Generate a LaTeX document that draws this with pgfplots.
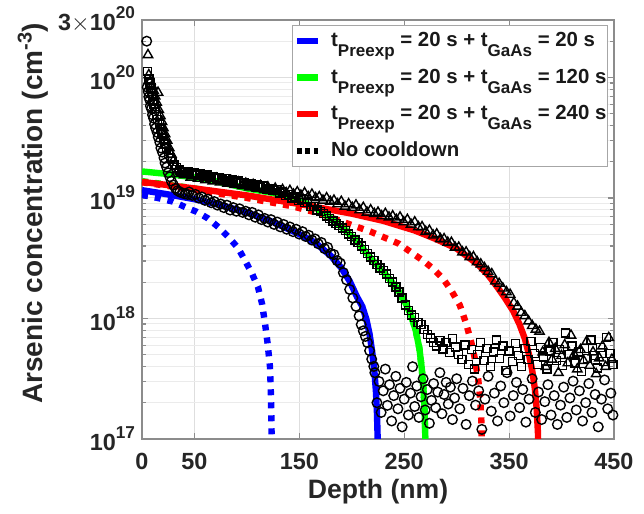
\documentclass[border=0pt]{standalone}
\usepackage{fontspec}
\setmainfont{Liberation Sans}
\usepackage{pgfplots}
\pgfplotsset{compat=1.18}
\definecolor{cblue}{rgb}{0,0,1}
\definecolor{cgreen}{rgb}{0,1,0}
\definecolor{cred}{rgb}{1,0,0}
\newcommand{\sps}[1]{\raisebox{6pt}{\fontsize{8.6}{9}\selectfont #1}}
\newcommand{\sub}[1]{\raisebox{-5pt}{\fontsize{8.5}{9}\selectfont #1}}
\begin{document}
\begin{tikzpicture}
\begin{axis}[
 scale only axis, width=236pt, height=209.5pt,
 xmin=0, xmax=450, ymode=log, ymin=1e17, ymax=3e20,
 xtick={0,50,150,250,350,450}, xticklabels={0,50,150,250,350,450},
 ytick={1e17,1e18,1e19,1e20,3e20},
 yticklabels={10\sps{17},10\sps{18},10\sps{19},10\sps{20},3$\times$10\sps{20}},
 minor ytick={2e17,3e17,4e17,5e17,6e17,7e17,8e17,9e17,2e18,3e18,4e18,5e18,6e18,7e18,8e18,9e18,2e19,3e19,4e19,5e19,6e19,7e19,8e19,9e19,2e20},
 xmajorgrids, ymajorgrids, yminorgrids,
 major grid style={black!13, line width=0.5pt},
 minor grid style={black!8, line width=0.5pt},
 axis line style={black!45, line width=0.6pt},
 tick style={black!45, line width=0.6pt},
 major tick length=3pt, minor tick length=2pt,
 tick align=inside, xtick pos=both, ytick pos=both,
 tick label style={font=\fontsize{11.7}{13}\selectfont\bfseries, text=black!85},
 xticklabel style={yshift=-3.4pt},
 xlabel={Depth (nm)},
 ylabel={Arsenic concentration (cm\raisebox{5.5pt}{\fontsize{10}{10}\selectfont -3})},
 label style={text=black!85},
 xlabel style={font=\fontsize{13.3}{15}\selectfont\bfseries, at={(axis description cs:0.5,-0.1265)}, anchor=center},
 ylabel style={font=\fontsize{14}{16}\selectfont\bfseries, at={(axis description cs:-0.231,0.538)}, anchor=center},
 legend cell align=left,
 legend style={at={(1,1)}, anchor=north east, xshift=-3pt, yshift=-2.5pt,
   draw=black!35, line width=0.6pt, fill=white,
   font=\fontsize{10.2}{12}\selectfont\bfseries, text=black!90,
   inner xsep=0.5pt, inner ysep=3.5pt, row sep=9.6pt, nodes={inner sep=0pt},
   /tikz/every odd column/.append style={column sep=5pt}},
 legend image code/.code={\draw[#1, line width=3.2pt] (0pt,0pt) -- (10.5pt,0pt);},
]
% ---------- circles: t_GaAs = 20 s ----------
\addplot[only marks, mark=o, mark size=2.4pt, black, mark options={line width=0.7pt}, forget plot] coordinates {
(4.5,2.0e20)(5,8.3e19)(6,7.6e19)(6.5,6.9e19)(7.5,6.5e19)(8,5.8e19)(9,5.5e19)(10,4.9e19)(11,4.6e19)(12,4.1e19)
(13,3.8e19)(14.5,3.5e19)(15.5,3.2e19)(17,2.9e19)(18,2.6e19)(19.5,2.4e19)(21,2.15e19)(22,1.95e19)(23.5,1.8e19)
(25,1.62e19)(26.5,1.5e19)(28,1.38e19)(30,1.28e19)(32,1.2e19)(34,1.15e19)(36,1.12e19)(38.5,1.1e19)(41,1.08e19)(43.5,1.07e19)
(45,1.12e19)(48,1.05e19)(51,1.07e19)(54,1.00e19)(57,1.02e19)(60,9.55e18)(63,9.77e18)(66,9.12e18)(69,9.33e18)(72,8.71e18)
(75,8.91e18)(78,8.32e18)(81,8.71e18)(84,7.94e18)(87,8.32e18)(90,7.76e18)(93,8.13e18)(96,7.59e18)(99,7.76e18)(102,7.24e18)
(105,7.59e18)(108,6.92e18)(111,7.24e18)(114,6.61e18)(117,6.76e18)(120,6.31e18)(123,6.61e18)(126,6.03e18)(129,6.31e18)
(132,5.75e18)(135,6.03e18)(138,5.50e18)(141,5.75e18)(144,5.25e18)(147,5.50e18)(150,5.01e18)(153,5.25e18)(156,4.79e18)
(159,4.90e18)(162,4.47e18)(165,4.57e18)(168,4.17e18)(171,4.27e18)(174,3.80e18)(177,3.89e18)(180,3.47e18)(183,3.39e18)
(186,3.02e18)(189,2.88e18)(192,2.40e18)(195,2.09e18)(198,1.74e18)(201,1.48e18)(204,1.26e18)(207,1.05e18)(209,8.9e17)
(211,7.9e17)(213,7.1e17)(215,6.3e17)(217,5.4e17)(219,4.6e17)(221,4.0e17)
(222,3.55e17)(224,2.0e17)(226,3.0e17)(228,1.66e17)(230,2.51e17)(232,3.8e17)(234,1.9e17)(236,2.82e17)(238,1.41e17)
(240,2.29e17)(242,3.31e17)(244,1.78e17)(246,2.63e17)(248,1.26e17)(250,2.14e17)(252,2.95e17)(254,1.58e17)(256,2.40e17)
(258,3.98e17)(260,1.86e17)(262,2.75e17)(264,1.51e17)(266,2.24e17)(268,3.16e17)(270,1.74e17)(272,2.57e17)(274,1.35e17)
(276,2.09e17)(278,2.88e17)(280,1.82e17)(282,2.45e17)(284,3.55e17)(286,1.62e17)(288,2.34e17)(290,2.95e17)(292,1.95e17)
(294,2.69e17)(296,1.45e17)(298,2.19e17)(300,3.16e17)(303,1.78e17)(306,2.63e17)(309,1.32e17)(312,2.29e17)(315,3.02e17)
(318,1.91e17)(321,2.51e17)(324,1.20e17)(327,2.14e17)(330,3.31e17)(333,1.70e17)(336,2.40e17)(339,1.41e17)(342,2.75e17)
(345,2.00e17)(348,3.55e17)(351,1.55e17)(354,2.29e17)(357,2.95e17)(360,1.82e17)(363,2.57e17)(366,1.38e17)(369,2.14e17)
(372,3.16e17)(375,1.66e17)(378,2.45e17)(381,1.45e17)(384,2.04e17)(387,2.82e17)(390,1.58e17)(393,2.29e17)(396,1.32e17)
(399,1.91e17)(402,2.69e17)(405,1.51e17)(408,2.19e17)(411,3.02e17)(414,1.74e17)(417,2.51e17)(420,1.41e17)(423,2.00e17)
(426,2.88e17)(429,1.66e17)(432,2.34e17)(435,1.26e17)(438,2.14e17)(441,3.09e17)(444,1.78e17)(447,2.40e17)(449,1.58e17)
};
% ---------- squares: t_GaAs = 120 s ----------
\addplot[only marks, mark=square, mark size=2.0pt, black, mark options={line width=0.7pt}, forget plot] coordinates {
(5.5,1.12e20)(6.5,9.8e19)(7.5,9.0e19)(8.5,8.2e19)(9.5,7.4e19)(10.5,6.6e19)(11.5,6.0e19)(12.5,5.5e19)(14,4.9e19)(15,4.5e19)
(16.5,4.1e19)(18,3.7e19)(19,3.4e19)(20.5,3.1e19)(22,2.8e19)(23.5,2.6e19)(25,2.35e19)(27,2.15e19)(29,2.0e19)(31,1.88e19)
(33,1.78e19)(35.5,1.7e19)(38,1.65e19)(41,1.62e19)
(44,1.66e19)(47,1.58e19)(50,1.62e19)(53,1.55e19)(56,1.58e19)(59,1.51e19)(62,1.55e19)(65,1.48e19)(68,1.51e19)(71,1.45e19)
(74,1.48e19)(77,1.41e19)(80,1.45e19)(83,1.38e19)(86,1.41e19)(89,1.35e19)(92,1.38e19)(95,1.32e19)(98,1.35e19)(101,1.29e19)
(104,1.32e19)(107,1.26e19)(110,1.29e19)(113,1.23e19)(116,1.26e19)(119,1.17e19)(122,1.20e19)(125,1.15e19)(128,1.17e19)
(131,1.10e19)(134,1.12e19)(137,1.05e19)(140,1.07e19)(143,1.00e19)(146,1.02e19)(149,9.55e18)(152,9.77e18)(155,9.12e18)
(158,9.12e18)(161,8.51e18)(164,8.51e18)(167,7.94e18)(170,7.76e18)(173,7.41e18)(176,7.08e18)(179,6.76e18)(182,6.46e18)
(185,6.17e18)(188,5.89e18)(191,5.62e18)(194,5.37e18)(197,5.01e18)(200,4.79e18)(203,4.47e18)(206,4.27e18)(209,3.98e18)
(212,3.72e18)(215,3.47e18)(218,3.24e18)(221,3.02e18)(224,2.82e18)(227,2.63e18)(230,2.51e18)(233,2.34e18)(236,2.14e18)
(239,2.00e18)(242,1.82e18)(245,1.66e18)(248,1.48e18)(251,1.29e18)(254,1.17e18)(257,1.07e18)(260,1.02e18)(263,9.3e17)
(266,8.9e17)(269,8.1e17)(272,7.4e17)(275,6.9e17)(278,6.3e17)(281,5.9e17)(284,6.6e17)(287,5.6e17)(290,6.3e17)(293,5.2e17)
(296,6.8e17)(299,5.8e17)(302,5.0e17)
(305,4.57e17)(308,6.03e17)(311,4.17e17)(314,5.50e17)(317,3.80e17)(320,5.01e17)(323,6.31e17)(326,4.47e17)(329,5.62e17)
(332,3.98e17)(335,5.25e17)(338,6.61e17)(341,4.68e17)(344,5.89e17)(347,3.72e17)(350,5.37e17)(353,4.37e17)(356,6.17e17)
(359,4.90e17)(362,3.98e17)(365,5.62e17)(368,4.57e17)(371,6.46e17)(374,5.13e17)(377,4.17e17)(380,5.75e17)(383,4.79e17)
(386,3.80e17)(389,5.37e17)(392,6.31e17)(395,4.47e17)(398,5.50e17)(401,4.07e17)(404,7.59e17)(407,5.01e17)(410,5.89e17)
(413,4.27e17)(416,5.25e17)(419,3.63e17)(422,5.62e17)(425,4.68e17)(428,6.61e17)(431,4.90e17)(434,3.89e17)(437,5.75e17)
(440,4.37e17)(443,6.92e17)(446,5.13e17)(449,4.17e17)
};
% ---------- triangles: t_GaAs = 240 s ----------
\addplot[only marks, mark=triangle, mark size=2.7pt, black, mark options={line width=0.7pt}, forget plot] coordinates {
(5.7,1.54e20)(6.5,1.05e20)(8,9.3e19)(9.5,8.5e19)(11,7.8e19)(12.5,7.0e19)(15.3,7.5e19)(14,6.2e19)(16,5.4e19)(17.5,4.8e19)
(19,4.3e19)(20.5,3.8e19)(22,3.4e19)(24,3.0e19)(26,2.6e19)(28,2.3e19)(30,2.05e19)(32,1.85e19)(34,1.7e19)(37,1.6e19)(40,1.55e19)
(43,1.58e19)(46.5,1.48e19)(50,1.55e19)(53.5,1.45e19)(57,1.51e19)(60.5,1.41e19)(64,1.48e19)(67.5,1.38e19)(71,1.45e19)
(74.5,1.35e19)(78,1.41e19)(81.5,1.32e19)(85,1.38e19)(88.5,1.29e19)(92,1.35e19)(95.5,1.26e19)(99,1.32e19)(102.5,1.23e19)
(106,1.29e19)(109.5,1.20e19)(113,1.26e19)(116.5,1.17e19)(120,1.23e19)(123.5,1.15e19)(127,1.20e19)(130.5,1.12e19)
(134,1.17e19)(137.5,1.10e19)(141,1.15e19)(144.5,1.07e19)(148,1.12e19)(151.5,1.05e19)(155,1.10e19)(158.5,1.02e19)
(162,1.07e19)(165.5,1.00e19)(169,1.02e19)(172.5,9.55e18)(176,1.00e19)(179.5,9.33e18)(183,9.55e18)(186.5,8.91e18)
(190,9.33e18)(193.5,8.51e18)(197,8.91e18)(200.5,8.32e18)(204,8.71e18)(207.5,7.94e18)(211,8.32e18)(214.5,7.59e18)
(218,7.94e18)(221.5,7.41e18)(225,7.59e18)(228.5,7.08e18)(232,7.41e18)(235.5,6.92e18)(239,7.08e18)(242.5,6.61e18)
(246,6.92e18)(249.5,6.31e18)(253,6.61e18)(256.5,6.03e18)(260,6.31e18)(263.5,5.75e18)(267,5.75e18)(270.5,5.25e18)
(274,5.37e18)(277.5,4.90e18)(281,5.01e18)(284.5,4.57e18)(288,4.57e18)(291.5,4.27e18)(295,4.27e18)(298.5,3.89e18)
(302,3.89e18)(305.5,3.55e18)(309,3.55e18)(312.5,3.24e18)(316,3.24e18)(319.5,2.95e18)(323,2.82e18)(326.5,2.63e18)
(330,2.45e18)(333.5,2.34e18)(337,2.04e18)(340.5,1.95e18)(344,1.78e18)(347.5,1.66e18)(351,1.58e18)(354.5,1.35e18)
(358,1.26e18)(361.5,1.12e18)(365,1.05e18)(368.5,9.5e17)(372,8.7e17)(375.5,8.1e17)(379,7.8e17)
(382,5.25e17)(385,3.98e17)(388,6.31e17)(391,4.57e17)(394,5.62e17)(397,3.55e17)(400,4.90e17)(403,6.03e17)(406,4.27e17)
(409,7.24e17)(412,5.01e17)(415,3.80e17)(418,5.50e17)(421,4.47e17)(424,6.46e17)(427,4.07e17)(430,5.25e17)(433,3.47e17)
(436,4.68e17)(439,5.89e17)(442,3.98e17)(445,6.92e17)(448,4.57e17)
};
% ---------- dotted curves (no cooldown) ----------
\addplot[cgreen, line width=3.2pt, dash pattern=on 3pt off 3.5pt, forget plot] coordinates {
(0,1.38e19)(50,1.20e19)(100,1.02e19)(150,8.51e18)(170,7.59e18)(185,6.31e18)(200,4.90e18)(217,3.24e18)(230,2.45e18)
(243,1.78e18)(256,1.10e18)(261,7.94e17)(264.5,5.62e17)(266.8,3.80e17)(268.3,2.63e17)(269.4,1.78e17)(270,1.12e17)(270.3,6.3e16)
};
\addplot[cblue, line width=3.2pt, dash pattern=on 3pt off 3.5pt, forget plot] coordinates {
(0,1.06e19)(15,1.00e19)(29.5,9.33e18)(45,8.13e18)(52,7.69e18)(63,6.76e18)(74,5.62e18)(83,4.68e18)(91.5,3.85e18)
(98,3.06e18)(105,2.34e18)(110.6,1.82e18)(114.5,1.32e18)(117.3,9.06e17)(119.8,6.17e17)(122,3.98e17)(123,2.24e17)
(123.6,1.05e17)(123.8,6.3e16)
};
\addplot[cred, line width=3.2pt, dash pattern=on 3pt off 3.5pt, forget plot] coordinates {
(0,1.35e19)(50,1.17e19)(100,1.00e19)(144,8.51e18)(170,7.41e18)(192,6.31e18)(218,5.25e18)(245,4.17e18)(258,3.47e18)
(268,3.02e18)(278,2.57e18)(287,2.14e18)(295,1.70e18)(303,1.29e18)(309,9.1e17)(314,6.3e17)(317.5,4.57e17)(320.5,3.16e17)
(322.5,2.14e17)(323.7,1.32e17)(324.2,6.3e16)
};
% ---------- solid fitted curves ----------
\addplot[cblue, line width=3.2pt] coordinates {
(0,1.16e19)(25,1.07e19)(50,9.77e18)(75,8.71e18)(100,7.59e18)(125,6.31e18)(150,5.01e18)(165,4.27e18)(180,3.31e18)
(190,2.63e18)(198,2.04e18)(205,1.51e18)(210,1.26e18)(214,9.8e17)(217,7.4e17)(219.5,5.25e17)(221.5,3.72e17)
(223,2.51e17)(224,1.66e17)(224.7,1.0e17)(225,6.3e16)
};
\addlegendentry{t\sub{Preexp} = 20 s + t\sub{GaAs} = 20 s}
\addplot[cgreen, line width=3.2pt] coordinates {
(0,1.66e19)(25,1.58e19)(50,1.48e19)(75,1.35e19)(100,1.20e19)(125,1.10e19)(150,9.55e18)(165,8.32e18)(176,7.24e18)
(186,6.17e18)(195,5.25e18)(205,4.37e18)(217,3.24e18)(230,2.45e18)(243,1.78e18)(250,1.41e18)(256,1.10e18)(261,7.94e17)
(264.5,5.62e17)(266.8,3.80e17)(268.3,2.63e17)(269.4,1.78e17)(270,1.12e17)(270.3,6.3e16)
};
\addlegendentry{t\sub{Preexp} = 20 s + t\sub{GaAs} = 120 s}
\addplot[cred, line width=3.2pt] coordinates {
(0,1.36e19)(50,1.20e19)(100,1.05e19)(150,8.91e18)(200,7.41e18)(230,6.46e18)(260,5.37e18)(280,4.57e18)(300,3.80e18)
(320,2.82e18)(330,2.29e18)(338,1.86e18)(346,1.48e18)(354,1.15e18)(360,8.9e17)(365,6.8e17)(369,5.0e17)(372,3.72e17)
(374.5,2.63e17)(376.3,1.78e17)(377.5,1.12e17)(378,6.3e16)
};
\addlegendentry{t\sub{Preexp} = 20 s + t\sub{GaAs} = 240 s}
\addlegendimage{black, line width=3.2pt, dash pattern=on 2.5pt off 1.7pt}
\addlegendentry{No cooldown}
\end{axis}
\pgfresetboundingbox
\path[use as bounding box] ([shift={(-71pt,-37.5pt)}]current axis.south west) rectangle ([shift={(15pt,10pt)}]current axis.north east);
\end{tikzpicture}
\end{document}
